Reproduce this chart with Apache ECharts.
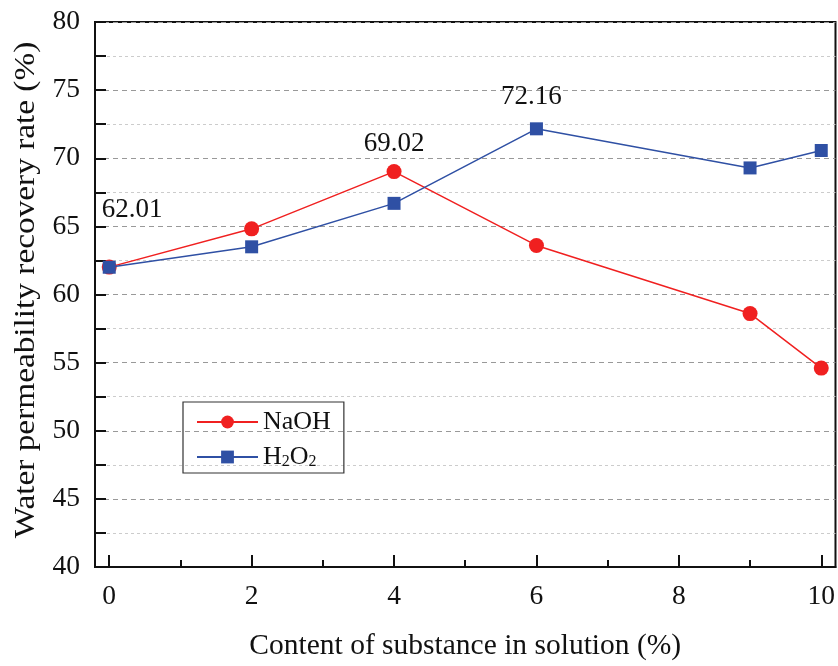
<!DOCTYPE html>
<html><head><meta charset="utf-8">
<script src="https://cdn.jsdelivr.net/npm/echarts@6/dist/echarts.min.js"></script>
<style>html,body{margin:0;padding:0;background:#fff}#c{width:838px;height:666px}</style>
</head><body><div id="c"></div>
<script>
const xValues = [0, 2, 4, 6, 9, 10];
const naoh = [62.01, 64.82, 69.02, 63.6, 58.6, 54.6];
const h2o2 = [62.0, 63.5, 66.69, 72.16, 69.29, 70.57];
const xMajorTicks = [0, 2, 4, 6, 8, 10];
const xMinorTicks = [1, 3, 5, 7, 9];
const seriesNames = ['NaOH', 'H2O2'];
const xTitle = 'Content of substance in solution (%)';
const yTitle = 'Water permeability recovery rate (%)';
// annotated points: [series index, point index]
const annotated = [[0, 0], [0, 2], [1, 3]];
const labelOffsets = [[23, -24], [0, 5], [-5, 0]];

const FONT = 'Liberation Serif';
const build = (vals, si) => vals.map((v, i) => {
  const k = annotated.findIndex(a => a[0] === si && a[1] === i);
  const item = { value: [xValues[i], v] };
  if (k >= 0) {
    item.label = { show: true, position: 'top', distance: 12, offset: labelOffsets[k],
      formatter: p => p.value[1].toFixed(2), fontFamily: FONT, fontSize: 27, color: '#111' };
  }
  return item;
});

const chart = echarts.init(document.getElementById('c'));
chart.setOption({
  animation: false,
  backgroundColor: '#fff',
  grid: { left: 95, right: 2, top: 22, bottom: 94, show: true, borderColor: '#111', borderWidth: 2, backgroundColor: 'transparent' },
  graphic: [{
    type: 'text', x: 26, y: 290, rotation: Math.PI / 2, scaleX: 1.11,
    style: { text: yTitle, font: '30px "Liberation Serif"', fill: '#111', align: 'center', verticalAlign: 'middle' }
  }],
  legend: {
    left: 183, top: 402, orient: 'vertical',
    data: seriesNames,
    itemWidth: 61, itemHeight: 16, itemGap: 9,
    padding: [7, 13, 3, 13],
    borderColor: '#333', borderWidth: 1.2, borderRadius: 0,
    textStyle: { fontFamily: FONT, fontSize: 26, color: '#111', lineHeight: 26,
      rich: { n: { fontFamily: FONT, fontSize: 26, lineHeight: 26, color: '#111' },
              s: { fontFamily: FONT, fontSize: 16, lineHeight: 26, color: '#111', verticalAlign: 'bottom', padding: [8, 0, 0, 0] } } },
    formatter: name => name === 'H2O2' ? '{n|H}{s|2}{n|O}{s|2}' : '{n|' + name + '}'
  },
  xAxis: [{
    type: 'value', min: -0.2, max: 10.2, position: 'bottom',
    name: xTitle, nameLocation: 'middle', nameGap: 64,
    nameTextStyle: { fontFamily: FONT, fontSize: 29.5, color: '#111' },
    axisLine: { show: true, onZero: false, lineStyle: { color: '#111', width: 2 } },
    axisTick: { show: true, inside: true, length: 12, lineStyle: { color: '#111', width: 2 }, customValues: xMajorTicks },
    axisLabel: { fontFamily: FONT, fontSize: 27.5, color: '#111', margin: 16, customValues: xMajorTicks },
    splitLine: { show: false }
  }, {
    type: 'value', min: -0.2, max: 10.2, position: 'bottom',
    axisLine: { show: false, onZero: false },
    axisTick: { show: true, inside: true, length: 7, lineStyle: { color: '#111', width: 2 }, customValues: xMinorTicks },
    axisLabel: { show: false, customValues: xMinorTicks },
    splitLine: { show: false }
  }],
  yAxis: {
    type: 'value', min: 40, max: 80, interval: 5,
    axisLine: { show: true, onZero: false, lineStyle: { color: '#111', width: 2 } },
    axisTick: { show: true, inside: true, length: 11, lineStyle: { color: '#111', width: 2 } },
    minorTick: { show: true, splitNumber: 2, length: 11, lineStyle: { color: '#111', width: 2 } },
    axisLabel: { fontFamily: FONT, fontSize: 27.5, color: '#111', margin: 15 },
    splitLine: { show: true, lineStyle: { color: '#999', type: [5, 4], width: 1.2 } },
    minorSplitLine: { show: true, lineStyle: { color: '#ccc', type: [3, 3], width: 1 } }
  },
  series: [{
    name: 'NaOH', type: 'line', xAxisIndex: 0, data: build(naoh, 0),
    symbol: 'circle', symbolSize: 15,
    lineStyle: { color: '#f02020', width: 1.5 }, itemStyle: { color: '#f02020' }, z: 3
  }, {
    name: 'H2O2', type: 'line', xAxisIndex: 0, data: build(h2o2, 1),
    symbol: 'rect', symbolSize: 13,
    lineStyle: { color: '#2f50a4', width: 1.5 }, itemStyle: { color: '#2f50a4' }, z: 4
  }]
});
</script></body></html>
